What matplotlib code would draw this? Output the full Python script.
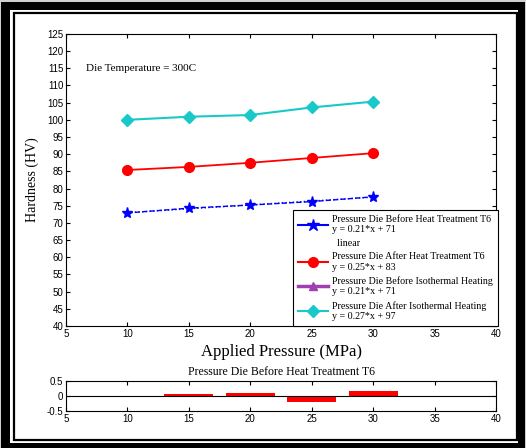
import matplotlib
matplotlib.use("Agg")
import matplotlib.pyplot as plt
import numpy as np
from matplotlib.lines import Line2D
from matplotlib.patches import Rectangle

pressure = [10, 15, 20, 25, 30]
before_t6 = [72.9, 74.3, 75.2, 76.2, 77.6]
after_t6 = [85.4, 86.3, 87.5, 88.9, 90.3]
before_iso = [72.9, 74.3, 75.2, 76.2, 77.6]
after_iso = [100.0, 100.9, 101.4, 103.6, 105.3]
residuals = [0.0, 0.07, 0.11, -0.21, 0.15]

serif = "Liberation Serif"
sans = "Liberation Sans"

fig = plt.figure(figsize=(5.26, 4.48), dpi=100)
fig.patch.set_facecolor("#cfcfcf")

# frame drawn in pixel coordinates on a background axes
bg = fig.add_axes([0, 0, 1, 1], zorder=-10)
bg.set_xlim(0, 526)
bg.set_ylim(448, 0)
bg.axis("off")
bg.add_patch(Rectangle((1, 2), 524, 446, facecolor="black", edgecolor="none"))
bg.add_patch(Rectangle((10, 10), 508, 433, facecolor="white", edgecolor="none"))
bg.add_patch(Rectangle((13.5, 13), 503, 427, facecolor="white", edgecolor="black", lw=1.6))

ax = fig.add_axes([0.1255, 0.2723, 0.8175, 0.652])
# isothermal "before" series sits under the T6 "before" series
ax.plot(pressure, before_iso, color="#a040b0", marker="^", ms=3, ls="none", zorder=1)
ax.plot(pressure, before_t6, color="blue", marker="*", ms=8, lw=1.0, ls="--", zorder=3)
coef = np.polyfit(pressure, before_t6, 1)
ax.plot(pressure, np.polyval(coef, pressure), color="blue", ls=":", lw=1.0, zorder=2)
ax.plot(pressure, after_t6, color="red", marker="o", ms=7, lw=1.3, zorder=3)
ax.plot(pressure, after_iso, color="#19c8c8", marker="D", ms=6, lw=1.5, zorder=3)

ax.set_xlim(5, 40)
ax.set_ylim(40, 125)
ax.set_xticks(range(5, 41, 5))
ax.set_yticks(range(40, 126, 5))
ax.tick_params(direction="in", top=True, right=True, length=3, labelsize=7, pad=2)
for lab in ax.get_xticklabels() + ax.get_yticklabels():
    lab.set_fontfamily(sans)
ax.set_xlabel("Applied Pressure (MPa)", fontsize=12, family=serif, labelpad=4)
ax.set_ylabel("Hardness (HV)", fontsize=10, family=serif, labelpad=6)
ax.text(6.63, 115, "Die Temperature = 300C", fontsize=8, family=serif, va="center")

handles = [
    Line2D([], [], color="blue", marker="*", ms=9, lw=1.5),
    Line2D([], [], color="none"),
    Line2D([], [], color="red", marker="o", ms=7, lw=1.5),
    Line2D([], [], color="#a040b0", marker="^", ms=6, lw=2.5),
    Line2D([], [], color="#19c8c8", marker="D", ms=6, lw=1.5),
]
labels = [
    "Pressure Die Before Heat Treatment T6\ny = 0.21*x + 71",
    "  linear",
    "Pressure Die After Heat Treatment T6\ny = 0.25*x + 83",
    "Pressure Die Before Isothermal Heating\ny = 0.21*x + 71",
    "Pressure Die After Isothermal Heating\ny = 0.27*x + 97",
]
leg = ax.legend(handles, labels, loc="lower right", bbox_to_anchor=(1.005, 0),
                borderaxespad=0, prop={"family": serif, "size": 7.2},
                handlelength=3.0, handletextpad=0.4, labelspacing=0.45,
                borderpad=0.5, fancybox=False, edgecolor="black", framealpha=1)
leg.get_frame().set_linewidth(0.8)

# residuals of the linear fit for the first series
ax2 = fig.add_axes([0.1255, 0.0826, 0.8175, 0.067])
ax2.bar(pressure, residuals, width=4, color="red")
ax2.axhline(0, color="black", lw=0.8)
ax2.set_xlim(5, 40)
ax2.set_ylim(-0.5, 0.5)
ax2.set_xticks(range(5, 41, 5))
ax2.set_yticks([-0.5, 0, 0.5])
ax2.set_yticklabels(["-0.5", "0", "0.5"])
ax2.tick_params(direction="in", top=True, right=True, length=3, labelsize=7, pad=2)
for lab in ax2.get_xticklabels() + ax2.get_yticklabels():
    lab.set_fontfamily(sans)
ax2.set_title("Pressure Die Before Heat Treatment T6", fontsize=8.5, family=serif, pad=4)

fig.savefig("out.png", dpi=100, facecolor=fig.get_facecolor())
